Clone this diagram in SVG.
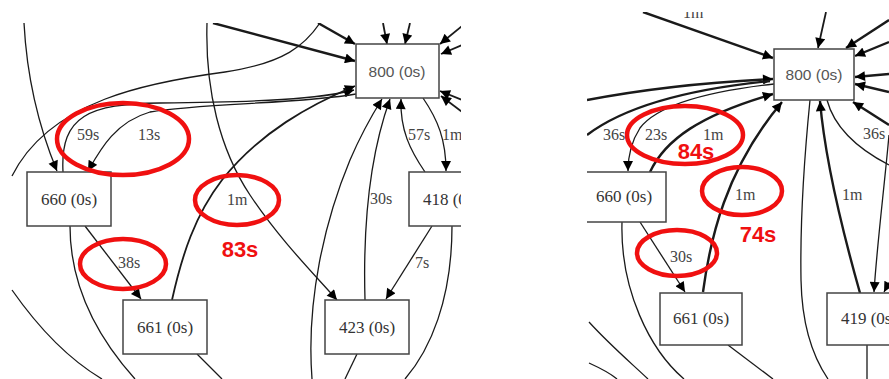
<svg xmlns="http://www.w3.org/2000/svg" width="889" height="379" viewBox="0 0 889 379">
<defs>
<style>
.e{fill:none;stroke:#1a1a1a;stroke-width:1.3}
.t{stroke-width:2.4}
.m{stroke-width:1.8}
.a{marker-end:url(#ah)}
.n rect{fill:#fff;stroke:#444;stroke-width:1.5}
.nt{font-family:"Liberation Serif",serif;font-size:17px;fill:#333;text-anchor:middle}
.ns{font-family:"Liberation Sans",sans-serif;font-size:15.5px;fill:#555;text-anchor:middle}
.lb{font-family:"Liberation Serif",serif;font-size:16px;fill:#444}
.red{font-family:"Liberation Sans",sans-serif;font-size:22px;font-weight:bold;fill:#f01010;text-anchor:middle}
.ring{fill:none;stroke:#f01010;stroke-width:4.5}
</style>
<marker id="ah" viewBox="0 0 10 10" refX="10" refY="5" markerWidth="12" markerHeight="10" markerUnits="userSpaceOnUse" orient="auto"><path d="M0,0 L10,5 L0,10 z" fill="#000"/></marker>
<clipPath id="cl"><rect x="11" y="23" width="450" height="356"/></clipPath>
<clipPath id="cr"><rect x="587" y="12" width="302" height="367"/></clipPath>
</defs>
<rect width="889" height="379" fill="#fff"/>

<g id="left-panel" clip-path="url(#cl)">
<g id="connectors-left">
<path class="e a" d="M24,23 C27,80 40,130 57,171"/>
<path class="e a" d="M63,172 C60,115 90,104 160,103 C260,102 320,99 354,90"/>
<path class="e a" d="M356,94 C300,104 200,103 150,112 C115,122 100,150 88,171"/>
<path class="e" d="M12,176 C50,100 150,82 225,72 C285,63 305,45 320,23"/>
<path class="e t a" d="M213,23 L355,61"/>
<path class="e t a" d="M318,23 L355,44"/>
<path class="e m a" d="M383,23 L387,44"/>
<path class="e m a" d="M410,23 L405,44"/>
<path class="e m a" d="M462,26 L440,44"/>
<path class="e m a" d="M462,45 L441,54"/>
<path class="e m a" d="M462,100 L440,91"/>
<path class="e m a" d="M462,112 L441,96"/>
<path class="e m a" d="M172,300 C182,255 195,215 222,180 C260,132 310,105 355,86"/>
<path class="e a" d="M207,23 C205,90 220,150 250,195 C280,240 315,275 337,300"/>
<path class="e a" d="M312,379 C306,300 325,220 350,160 C362,132 372,115 382,99"/>
<path class="e a" d="M365,300 C363,230 368,160 390,99"/>
<path class="e a" d="M425,172 C410,150 400,130 401,99"/>
<path class="e a" d="M423,98 C438,120 446,140 446,171"/>
<path class="e a" d="M432,226 L386,299"/>
<path class="e" d="M452,226 C452,300 430,350 405,379"/>
<path class="e" d="M357,354 L345,379"/>
<path class="e" d="M197,354 L222,379"/>
<path class="e" d="M70,226 C70,290 100,340 135,379"/>
<path class="e a" d="M85,226 L141,299"/>
<path class="e" d="M12,290 C40,330 70,360 102,379"/>
</g>
<g id="L800" class="n"><rect x="356" y="44" width="83" height="54"/><text class="ns" x="397" y="77">800 (0s)</text></g>
<g id="L660" class="n"><rect x="27" y="172" width="84" height="54"/><text class="nt" x="69" y="205">660 (0s)</text></g>
<g id="L661" class="n"><rect x="123" y="300" width="84" height="54"/><text class="nt" x="165" y="333">661 (0s)</text></g>
<g id="L423" class="n"><rect x="325" y="300" width="84" height="54"/><text class="nt" x="367" y="333">423 (0s)</text></g>
<g id="L418" class="n"><rect x="409" y="172" width="84" height="54"/><text class="nt" x="451" y="205">418 (0s)</text></g>
<g id="labels-left">
<text class="lb" x="77" y="140">59s</text>
<text class="lb" x="138" y="140">13s</text>
<text class="lb" x="408" y="140">57s</text>
<text class="lb" x="442" y="140">1m</text>
<text class="lb" x="227" y="205">1m</text>
<text class="lb" x="118" y="268">38s</text>
<text class="lb" x="370" y="204">30s</text>
<text class="lb" x="415" y="268">7s</text>
</g>
</g>

<g id="right-panel" clip-path="url(#cr)">
<g id="connectors-right">
<path class="e t a" d="M643,12 L773,58"/>
<path class="e m a" d="M826,12 L818,48"/>
<path class="e t a" d="M889,20 L846,48"/>
<path class="e t a" d="M889,42 L855,56"/>
<path class="e t a" d="M889,74 L855,77"/>
<path class="e t a" d="M889,92 L855,84"/>
<path class="e t a" d="M889,125 L853,102"/>
<path class="e" d="M827,100 C835,130 860,150 889,165"/>
<path class="e" d="M810,100 C805,150 800,220 801,280 C802,330 815,360 828,379"/>
<path class="e t a" d="M860,293 C845,240 825,160 820,101"/>
<path class="e a" d="M889,135 C884,190 877,245 874,292"/>
<path class="e a" d="M896,270 L884,292"/>
<path class="e" d="M867,345 L867,379"/>
<path class="e t a" d="M587,100 C650,88 710,82 773,79"/>
<path class="e t" d="M587,135 C620,110 680,90 770,81"/>
<path class="e a" d="M774,84 C720,90 660,102 640,128 C631,142 628,158 628,171"/>
<path class="e t a" d="M650,172 C665,140 700,115 773,94"/>
<path class="e t a" d="M703,292 C710,240 725,170 782,102"/>
<path class="e a" d="M640,222 L685,292"/>
<path class="e" d="M622,222 C620,290 650,350 684,379"/>
<path class="e" d="M589,322 C610,345 630,362 648,379"/>
<path class="e" d="M589,363 C600,368 610,373 617,379"/>
<path class="e" d="M728,345 L773,379"/>
</g>
<g id="R800" class="n"><rect x="774" y="49" width="80" height="51"/><text class="ns" x="814" y="80">800 (0s)</text></g>
<g id="R660" class="n"><rect x="582" y="172" width="84" height="50"/><text class="nt" x="624" y="202">660 (0s)</text></g>
<g id="R661" class="n"><rect x="660" y="293" width="82" height="52"/><text class="nt" x="701" y="324">661 (0s)</text></g>
<g id="R419" class="n"><rect x="827" y="293" width="84" height="52"/><text class="nt" x="869" y="324">419 (0s)</text></g>
<g id="labels-right">
<text class="lb" x="683" y="18">1m</text>
<text class="lb" x="603" y="140">36s</text>
<text class="lb" x="645" y="140">23s</text>
<text class="lb" x="703" y="140">1m</text>
<text class="lb" x="863" y="139">36s</text>
<text class="lb" x="735" y="200">1m</text>
<text class="lb" x="842" y="200">1m</text>
<text class="lb" x="670" y="262">30s</text>
</g>
</g>

<g id="annotations">
<ellipse class="ring" cx="123" cy="139" rx="66" ry="36"/>
<ellipse class="ring" cx="237" cy="200" rx="42" ry="25"/>
<ellipse class="ring" cx="123" cy="264" rx="43" ry="25"/>
<text class="red" x="240" y="257">83s</text>
<ellipse class="ring" cx="685" cy="135" rx="58" ry="29"/>
<ellipse class="ring" cx="742" cy="191" rx="40" ry="24"/>
<ellipse class="ring" cx="677" cy="253" rx="40" ry="23"/>
<text class="red" x="696" y="159">84s</text>
<text class="red" x="758" y="242">74s</text>
</g>
</svg>
